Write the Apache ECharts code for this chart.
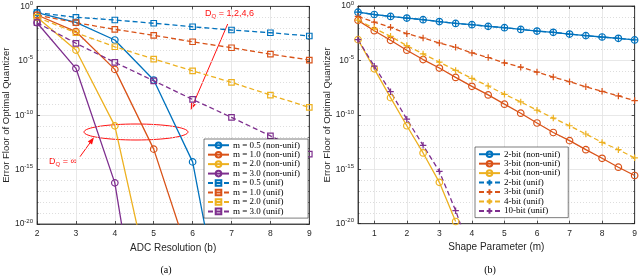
<!DOCTYPE html>
<html><head><meta charset="utf-8">
<script src="https://cdn.jsdelivr.net/npm/echarts@6/dist/echarts.min.js"></script>
<style>html,body{margin:0;padding:0;background:#fff}#c{width:640px;height:277px}</style>
</head><body><div id="c"></div>
<script>
// ---------- data (values are log10 of the error floor) ----------
const bitsA = [2, 3, 4, 5, 6, 7, 8, 9];
const nonUnifM05 = [-0.58, -1.46, -3.09, -6.77, -14.29, -33];
const nonUnifM10 = [-0.79, -2.31, -5.79, -13.12, -24];
const nonUnifM20 = [-1.0, -4.01, -10.98, -27];
const nonUnifM30 = [-1.5, -5.69, -16.22, -38];
const unifM05 = [-0.58, -1.0, -1.25, -1.55, -1.87, -2.17, -2.42, -2.72];
const unifM10 = [-0.79, -1.5, -2.11, -2.66, -3.25, -3.8, -4.38, -4.93];
const unifM20 = [-1.0, -2.42, -3.71, -4.84, -5.92, -6.98, -8.15, -9.28];
const unifM30 = [-1.5, -3.39, -5.14, -6.84, -8.55, -10.2, -11.9, -13.58];

const shapeB = [0.5, 1, 1.5, 2, 2.5, 3, 3.5, 4, 4.5, 5, 5.5, 6, 6.5, 7, 7.5, 8, 8.5, 9];
const nonUnif2bit = [-0.57, -0.78, -0.96, -1.11, -1.26, -1.43, -1.6, -1.72, -1.87, -1.99, -2.15, -2.3, -2.42, -2.58, -2.72, -2.85, -2.97, -3.12];
const nonUnif3bit = [-1.32, -2.27, -3.15, -4.06, -4.92, -5.7, -6.56, -7.38, -8.17, -9.02, -9.85, -10.75, -11.62, -12.37, -13.2, -13.99, -14.81, -15.57];
const nonUnif4bit = [-3.09, -5.77, -8.42, -11.0, -13.5, -16.2, -19.8];
const unif2bit = [-0.57, -0.78, -0.96, -1.11, -1.26, -1.43, -1.6, -1.72, -1.87, -1.99, -2.15, -2.3, -2.42, -2.58, -2.72, -2.85, -2.97, -3.12];
const unif3bit = [-0.96, -1.48, -1.96, -2.54, -2.94, -3.4, -3.79, -4.31, -4.73, -5.22, -5.62, -6.07, -6.53, -6.96, -7.42, -7.84, -8.26, -8.69];
const unif4bit = [-1.3, -2.05, -2.79, -3.64, -4.4, -5.16, -5.92, -6.65, -7.35, -8.11, -8.81, -9.57, -10.3, -11.0, -11.76, -12.53, -13.2, -13.95];
const unif10bit = [-3.09, -5.53, -7.87, -10.4, -12.8, -15.2, -18.8, -23];

const xTicksB = [1, 2, 3, 4, 5, 6, 7, 8, 9];
const namesA = ['m = 0.5 (non-unif)', 'm = 1.0 (non-unif)', 'm = 2.0 (non-unif)', 'm = 3.0 (non-unif)',
                'm = 0.5 (unif)', 'm = 1.0 (unif)', 'm = 2.0 (unif)', 'm = 3.0 (unif)'];
const namesB = ['2-bit (non-unif)', '3-bit (non-unif)', '4-bit (non-unif)',
                '2-bit (unif)', '3-bit (unif)', '4-bit (unif)', '10-bit (unif)'];

// ---------- styling ----------
const C = ['#0072BD', '#D95319', '#EDB120', '#7E2F8E'];
const PLUS = 'path://M5,0L5,10M0,5L10,5';
const AX = '#262626';
const SANS = 'Liberation Sans, Arial, sans-serif';
const SERIF = 'Liberation Serif, Times New Roman, serif';

function mk(name, xs, ys, color, symbol, size, dashed, idx) {
  return {
    name, type: 'line', xAxisIndex: idx, yAxisIndex: idx,
    data: ys.map((y, i) => [xs[i], y]),
    symbol, symbolSize: size, showSymbol: true, clip: true,
    lineStyle: { color, width: 1.3, type: dashed ? [5, 3] : 'solid' },
    itemStyle: { color: 'rgba(0,0,0,0)', borderColor: color, borderWidth: 1.2 },
    emphasis: { disabled: true }, animation: false
  };
}

const series = [
  mk(namesA[0], bitsA, nonUnifM05, C[0], 'circle', 6.5, false, 0),
  mk(namesA[1], bitsA, nonUnifM10, C[1], 'circle', 6.5, false, 0),
  mk(namesA[2], bitsA, nonUnifM20, C[2], 'circle', 6.5, false, 0),
  mk(namesA[3], bitsA, nonUnifM30, C[3], 'circle', 6.5, false, 0),
  mk(namesA[4], bitsA, unifM05, C[0], 'rect', 5.5, true, 0),
  mk(namesA[5], bitsA, unifM10, C[1], 'rect', 5.5, true, 0),
  mk(namesA[6], bitsA, unifM20, C[2], 'rect', 5.5, true, 0),
  mk(namesA[7], bitsA, unifM30, C[3], 'rect', 5.5, true, 0),
  mk(namesB[0], shapeB, nonUnif2bit, C[0], 'circle', 6.5, false, 1),
  mk(namesB[1], shapeB, nonUnif3bit, C[1], 'circle', 6.5, false, 1),
  mk(namesB[2], shapeB, nonUnif4bit, C[2], 'circle', 6.5, false, 1),
  mk(namesB[3], shapeB, unif2bit, C[0], PLUS, 6.5, true, 1),
  mk(namesB[4], shapeB, unif3bit, C[1], PLUS, 6.5, true, 1),
  mk(namesB[5], shapeB, unif4bit, C[2], PLUS, 6.5, true, 1),
  mk(namesB[6], shapeB, unif10bit, C[3], PLUS, 6.5, true, 1)
];

const splitSolid = { show: true, lineStyle: { color: '#e2e2e2', width: 0.8 } };
function xAx(grid, min, max, opts) {
  return Object.assign({
    type: 'value', gridIndex: grid, min, max, interval: 1,
    axisLine: { show: true, onZero: false, lineStyle: { color: AX, width: 0.8 } },
    axisTick: { show: true, inside: true, length: 3, lineStyle: { color: AX, width: 0.8 } },
    axisLabel: { color: AX, fontSize: 8.5, fontFamily: SANS, margin: 5 },
    splitLine: splitSolid,
    nameLocation: 'middle', nameGap: 16,
    nameTextStyle: { color: AX, fontSize: 10, fontFamily: SANS }
  }, opts);
}
function yAx(grid, opts) {
  return Object.assign({
    type: 'value', gridIndex: grid, min: -20, max: 0, interval: 5,
    axisLine: { show: true, onZero: false, lineStyle: { color: AX, width: 0.8 } },
    axisTick: { show: true, inside: true, length: 3, lineStyle: { color: AX, width: 0.8 } },
    minorTick: { show: true, splitNumber: 5, length: 1.5, lineStyle: { color: AX, width: 0.6 } },
    axisLabel: {
      color: AX, fontFamily: SANS, margin: 4,
      formatter: v => '{b|10}{s|' + v + '}',
      rich: { b: { fontSize: 8.5, fontFamily: SANS, color: AX, lineHeight: 12 },
              s: { fontSize: 6, fontFamily: SANS, color: AX, lineHeight: 12, padding: [0, 0, 6, 0] } }
    },
    splitLine: splitSolid,
    minorSplitLine: { show: true, lineStyle: { color: '#d4d4d4', width: 0.8, type: [1, 2] } },
    name: 'Error Floor of Optimal Quantizer',
    nameLocation: 'middle', nameGap: 25,
    nameTextStyle: { color: AX, fontSize: 9.5, fontFamily: SANS }
  }, opts);
}
const hidden = { axisLabel: { show: false }, splitLine: { show: false }, minorSplitLine: { show: false }, name: '' };

const xAxis = [
  xAx(0, 2, 9, { name: 'ADC Resolution (b)' }),
  xAx(1, 0.5, 9, { interval: null, name: 'Shape Parameter (m)',
    axisTick: { show: true, inside: true, length: 3, customValues: xTicksB, lineStyle: { color: AX, width: 0.8 } },
    axisLabel: { color: AX, fontSize: 8.5, fontFamily: SANS, margin: 5, customValues: xTicksB } }),
  xAx(0, 2, 9, Object.assign({ position: 'top' }, hidden)),
  xAx(1, 0.5, 9, Object.assign({ position: 'top', interval: null,
    axisTick: { show: true, inside: true, length: 3, customValues: xTicksB, lineStyle: { color: AX, width: 0.8 } } }, hidden))
];
const yAxis = [
  yAx(0, {}),
  yAx(1, { nameGap: 23 }),
  yAx(0, Object.assign({ position: 'right' }, hidden)),
  yAx(1, Object.assign({ position: 'right' }, hidden))
];

function legend(names, left, top, padTop) {
  return {
    data: names, orient: 'vertical', left, top,
    itemWidth: 21, itemHeight: 7, itemGap: 0,
    padding: [padTop, 8, 2, 3],
    backgroundColor: '#fff', borderColor: AX, borderWidth: 0.6, borderRadius: 0,
    textStyle: { fontFamily: SERIF, fontSize: 9, color: '#000', lineHeight: 9.45, padding: [0, 0, 0, -1] },
    selectedMode: false, inactiveColor: '#ccc'
  };
}

function arrow(x1, y1, x2, y2, color) {
  const dx = x2 - x1, dy = y2 - y1, L = Math.hypot(dx, dy);
  const ux = dx / L, uy = dy / L, h = 7, w = 2.6;
  const bx = x2 - ux * h, by = y2 - uy * h;
  return [
    { type: 'line', shape: { x1, y1, x2: bx, y2: by }, style: { stroke: color, lineWidth: 1 } },
    { type: 'polygon', shape: { points: [[x2, y2], [bx - uy * w, by + ux * w], [bx + uy * w, by - ux * w]] },
      style: { fill: color } }
  ];
}
const RED = '#FF1010';
const graphic = [
  { type: 'ellipse', shape: { cx: 136, cy: 132, rx: 52, ry: 8 }, style: { stroke: RED, fill: 'none', lineWidth: 1 } },
  ...arrow(227.7, 24, 190.7, 110, RED),
  ...arrow(80, 156.7, 94, 137.3, RED),
  { type: 'text', left: 205, top: 9, style: { text: '{a|D}{q|Q}{a| = 1,2,4,6}', fill: RED,
      rich: { a: { fontSize: 9, fontFamily: SANS, fill: RED, lineHeight: 12 },
              q: { fontSize: 6, fontFamily: SANS, fill: RED, lineHeight: 12, padding: [4, 0, 0, 0] } } } },
  { type: 'text', left: 49, top: 157, style: { text: '{a|D}{q|Q}{a| = \u221E}', fill: RED,
      rich: { a: { fontSize: 9, fontFamily: SANS, fill: RED, lineHeight: 12 },
              q: { fontSize: 6, fontFamily: SANS, fill: RED, lineHeight: 12, padding: [4, 0, 0, 0] } } } },
  { type: 'text', x: 166, y: 270, style: { text: '(a)', fontSize: 10, fontFamily: SERIF, fill: '#000', align: 'center', verticalAlign: 'middle' } },
  { type: 'text', x: 490, y: 270, style: { text: '(b)', fontSize: 10, fontFamily: SERIF, fill: '#000', align: 'center', verticalAlign: 'middle' } }
];

const chart = echarts.init(document.getElementById('c'), null, { renderer: 'canvas' });
chart.setOption({
  animation: false,
  backgroundColor: '#fff',
  grid: [
    { left: 34, top: 6.4, width: 275.3, height: 217.6, show: true, borderColor: AX, borderWidth: 0.8, backgroundColor: '#fff' },
    { left: 358, top: 4.1, width: 277, height: 219.6, show: true, borderColor: AX, borderWidth: 0.8, backgroundColor: '#fff' }
  ],
  xAxis, yAxis, series,
  legend: [legend(namesA, 204, 139, 1.5), legend(namesB, 475, 147, 2.5)],
  graphic
});
</script></body></html>
